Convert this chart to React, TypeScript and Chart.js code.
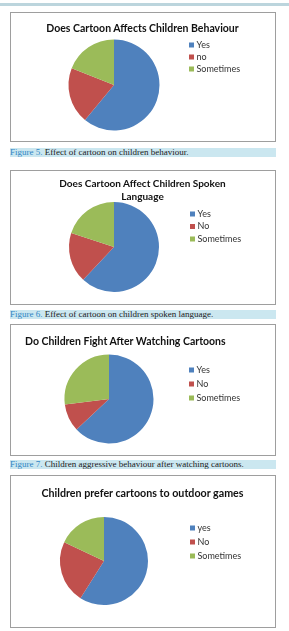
import React, { useEffect, useRef } from "react";
import { Chart, registerables } from "chart.js";

Chart.register(...registerables);

// Slice colours shared by all four pies
const sliceColors = ["#4F81BD", "#C0504D", "#9BBB59"];

// Figure 5 – does cartoon affect children behaviour
const behaviourLabels = ["Yes", "no", "Sometimes"];
const behaviourValues = [61, 20, 19];

// Figure 6 – does cartoon affect children spoken language
const languageLabels = ["Yes", "No", "Sometimes"];
const languageValues = [62, 18, 20];

// Figure 7 – do children fight after watching cartoons
const fightLabels = ["Yes", "No", "Sometimes"];
const fightValues = [63, 10, 27];

// Last chart – children prefer cartoons to outdoor games
const outdoorLabels = ["yes", "No", "Sometimes"];
const outdoorValues = [59, 23, 18];

const LEGEND_FONT = 9;
const LEGEND_SQUARE = 5;
// narrow slot so the label sits close to its square
const LEGEND_SLOT = 1;

type PanelProps = {
  box: { x: number; y: number; w: number; h: number };
  title: string[];
  titleSize: number;
  titleX: number;
  titleY: number;
  titleAlign: "center" | "left";
  pie: { cx: number; cy: number; r: number };
  legend: { x: number; y: number; gap: number };
  labels: string[];
  values: number[];
};

function PiePanel(props: PanelProps) {
  const ref = useRef<HTMLCanvasElement | null>(null);
  const { box, pie, legend, labels, values } = props;
  const W = box.w - 2;
  const H = box.h - 2;

  useEffect(() => {
    const canvas = ref.current;
    if (!canvas) return;
    const ox = box.x + 1;
    const oy = box.y + 1;
    const pad = legend.gap - LEGEND_FONT;
    const ctx = canvas.getContext("2d")!;
    ctx.font = `${LEGEND_FONT}px Lato`;
    const textW = Math.max(...labels.map((l) => ctx.measureText(l).width));
    // item anchor so that the square's left edge lands on legend.x
    const itemX = legend.x + LEGEND_SQUARE / 2 - LEGEND_SLOT / 2;
    const top = legend.y - oy - pad - LEGEND_FONT / 2;
    const cyRel = pie.cy - oy;
    const bottom = H - (2 * cyRel - top);
    const legendLeft = itemX - ox - pad;
    const left = 2 * (pie.cx - ox) - legendLeft;
    const legendW = pad + LEGEND_SLOT + LEGEND_FONT / 2 + textW + 10;
    const right = W - legendLeft - legendW;

    const chart = new Chart(canvas, {
      type: "pie",
      data: {
        labels,
        datasets: [
          {
            data: values,
            backgroundColor: sliceColors,
            borderWidth: 0,
            radius: pie.r,
          },
        ],
      },
      options: {
        responsive: false,
        animation: false,
        devicePixelRatio: 1,
        layout: { padding: { top, bottom, left, right } },
        plugins: {
          title: { display: false },
          tooltip: { enabled: false },
          legend: {
            position: "right",
            align: "start",
            labels: {
              usePointStyle: true,
              pointStyle: "rect",
              boxWidth: LEGEND_SLOT,
              boxHeight: LEGEND_SQUARE,
              padding: pad,
              color: "#333333",
              font: { family: "Lato", size: LEGEND_FONT },
            },
          },
        },
      },
    });
    return () => chart.destroy();
  }, []);

  const lineH = 13;
  const titleTop = props.titleY - (props.title.length * lineH) / 2;
  return (
    <>
      <div
        style={{
          position: "absolute",
          left: box.x,
          top: box.y,
          width: box.w,
          height: box.h,
          border: "1px solid #9e9e9e",
          boxSizing: "border-box",
          background: "#fff",
        }}
      >
        <canvas
          ref={ref}
          width={W}
          height={H}
          style={{ position: "absolute", left: 0, top: 0, width: W, height: H }}
        />
      </div>
      <div
        style={{
          position: "absolute",
          left: props.titleAlign === "center" ? props.titleX - 150 : props.titleX,
          width: 300,
          top: titleTop,
          textAlign: props.titleAlign,
          font: `700 ${props.titleSize}px Lato`,
          lineHeight: `${lineH}px`,
          color: "#111",
          whiteSpace: "nowrap",
        }}
      >
        {props.title.map((t) => (
          <div key={t}>{t}</div>
        ))}
      </div>
    </>
  );
}

function Caption(props: { y: number; num: string; text: string }) {
  return (
    <div
      style={{
        position: "absolute",
        left: 10,
        top: props.y,
        width: 266,
        height: 9,
        background: "#cbe7f0",
        font: "9px 'Liberation Serif'",
        lineHeight: "9px",
        color: "#1a1a1a",
        whiteSpace: "nowrap",
        overflow: "visible",
      }}
    >
      <span style={{ color: "#2f86c4" }}>{props.num}</span> {props.text}
    </div>
  );
}

export default function App() {
  return (
    <div
      style={{
        position: "absolute",
        left: 0,
        top: 0,
        width: 289,
        height: 631,
        overflow: "hidden",
        background: "#fff",
      }}
    >
      <div
        style={{
          position: "absolute",
          left: 0,
          top: 3,
          width: 289,
          height: 3,
          background: "#bcd5dd",
        }}
      />
      <PiePanel
        box={{ x: 10, y: 12, w: 266, h: 130 }}
        title={["Does Cartoon Affects Children Behaviour"]}
        titleSize={10.5}
        titleX={142.5}
        titleY={28}
        titleAlign="center"
        pie={{ cx: 114, cy: 85, r: 45.5 }}
        legend={{ x: 189, y: 45, gap: 12 }}
        labels={behaviourLabels}
        values={behaviourValues}
      />
      <Caption y={148} num="Figure 5." text="Effect of cartoon on children behaviour." />
      <PiePanel
        box={{ x: 10, y: 170, w: 266, h: 135 }}
        title={["Does Cartoon Affect Children Spoken", "Language"]}
        titleSize={10}
        titleX={142.5}
        titleY={190}
        titleAlign="center"
        pie={{ cx: 114, cy: 247, r: 45 }}
        legend={{ x: 190, y: 214, gap: 12.5 }}
        labels={languageLabels}
        values={languageValues}
      />
      <Caption y={310} num="Figure 6." text="Effect of cartoon on children spoken language." />
      <PiePanel
        box={{ x: 10, y: 324, w: 266, h: 132 }}
        title={["Do Children Fight After Watching Cartoons"]}
        titleSize={10.5}
        titleX={25}
        titleY={341}
        titleAlign="left"
        pie={{ cx: 109, cy: 399, r: 44.5 }}
        legend={{ x: 189, y: 370, gap: 14 }}
        labels={fightLabels}
        values={fightValues}
      />
      <Caption y={460} num="Figure 7." text="Children aggressive behaviour after watching cartoons." />
      <PiePanel
        box={{ x: 10, y: 475, w: 266, h: 153 }}
        title={["Children prefer cartoons to outdoor games"]}
        titleSize={10.7}
        titleX={142.5}
        titleY={492}
        titleAlign="center"
        pie={{ cx: 104, cy: 561, r: 44 }}
        legend={{ x: 190, y: 528, gap: 14 }}
        labels={outdoorLabels}
        values={outdoorValues}
      />
    </div>
  );
}
